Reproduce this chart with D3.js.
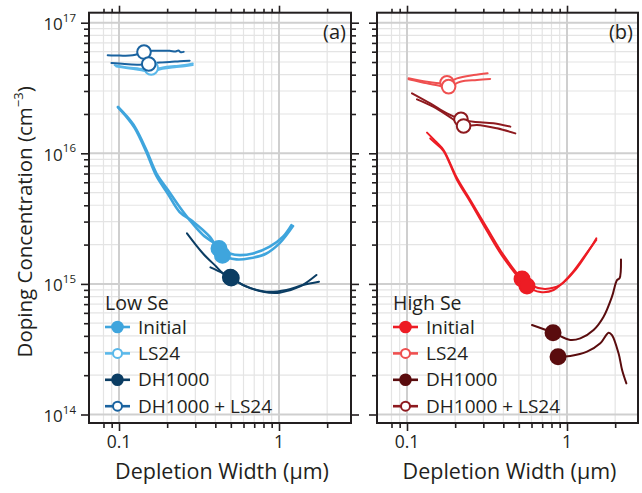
<!DOCTYPE html>
<html><head><meta charset="utf-8">
<script src="https://cdn.jsdelivr.net/npm/d3@7"></script>
<style>
body{margin:0;background:#fff}
svg{display:block}
text{font-family:"Open Sans",sans-serif;fill:#231f20}
</style>
</head><body>
<svg id="c" width="642" height="493"></svg>
<script>
// ---------- data ----------
const xMajorTicks = [0.1, 1];
const xMinorTicks = [0.08, 0.09, 0.2, 0.3, 0.4, 0.5, 0.6, 0.7, 0.8, 0.9, 2];
const xTickLabels = ["0.1", "1"];
const yDecades = [14, 15, 16, 17];
const yMinorMult = [2, 3, 4, 5, 6, 7, 8, 9];
const seriesNames = ["Initial", "LS24", "DH1000", "DH1000 + LS24"];
const seriesFilled = [true, false, true, false];
const lowColors = ["#3fa5dd", "#5ab8ea", "#0b3d63", "#1a63a0"];
const highColors = ["#ed1c24", "#ef5050", "#5a0c0e", "#8e1a1f"];
const panelTitles = ["Low Se", "High Se"];
const panelLetters = ["(a)", "(b)"];

// Low Se
const lowInitialA = [[0.0986,2.27e16],[0.1101,1.965e16],[0.1254,1.60e16],[0.1483,1.06e16],[0.1713,7.03e15],[0.2023,5.24e15],[0.2394,3.88e15],[0.2765,3.08e15],[0.3350,2.37e15],[0.4061,1.99e15],[0.4217,1.87e15],[0.4920,1.71e15],[0.5680,1.66e15],[0.6879,1.71e15],[0.8750,1.93e15],[1.0593,2.30e15],[1.1955,2.82e15]];
const lowInitialB = [[0.0986,2.25e16],[0.1101,1.93e16],[0.1254,1.56e16],[0.1483,1.02e16],[0.1713,6.70e15],[0.2023,4.88e15],[0.2394,3.55e15],[0.290,3.00e15],[0.369,2.30e15],[0.443,1.66e15],[0.542,1.54e15],[0.656,1.57e15],[0.834,1.71e15],[1.010,2.05e15],[1.223,2.77e15]];
const lowInitialMarks = [[0.4217,1.87e15],[0.443,1.66e15]];
const lowLS24A = [[0.0940,4.72e16],[0.1085,4.58e16],[0.1346,4.45e16],[0.1555,4.35e16],[0.1875,4.55e16],[0.2228,4.66e16],[0.2574,4.74e16],[0.289,4.87e16]];
const lowLS24B = [[0.0960,4.62e16],[0.1130,4.48e16],[0.1346,4.35e16],[0.1577,4.22e16],[0.1875,4.44e16],[0.2228,4.56e16],[0.2574,4.64e16],[0.289,4.74e16]];
const lowLS24Marks = [[0.1567,4.62e16],[0.1589,4.50e16]];
const lowDH1000A = [[0.266,2.44e15],[0.335,1.71e15],[0.406,1.355e15],[0.447,1.205e15],[0.497,1.124e15],[0.596,9.81e14],[0.794,8.71e14],[1.010,8.57e14],[1.346,9.52e14],[1.713,1.17e15]];
const lowDH1000B = [[0.373,1.34e15],[0.447,1.205e15],[0.529,1.07e15],[0.626,9.52e14],[0.834,8.71e14],[1.112,8.98e14],[1.413,9.81e14],[1.778,1.04e15]];
const lowDH1000Marks = [[0.497,1.124e15],[0.503,1.11e15]];
const lowDHLS24A = [[0.0850,5.63e16],[0.101,5.60e16],[0.1218,5.63e16],[0.1433,5.96e16],[0.1624,6.10e16],[0.1849,6.10e16],[0.2074,6.10e16],[0.226,6.02e16],[0.235,6.12e16],[0.244,5.94e16],[0.2537,5.98e16]];
const lowDHLS24B = [[0.0897,4.91e16],[0.1085,4.83e16],[0.1346,4.77e16],[0.1534,4.83e16],[0.1796,4.96e16],[0.2074,5.00e16],[0.2394,5.07e16],[0.2765,5.12e16]];
const lowDHLS24Marks = [[0.1433,5.96e16],[0.1534,4.83e16]];

// High Se
const highInitialA = [[0.1334,1.44e16],[0.1525,1.22e16],[0.1693,1.06e16],[0.2054,6.47e15],[0.2487,4.39e15],[0.3162,2.68e15],[0.4015,1.66e15],[0.5236,1.09e15],[0.607,9.64e14],[0.731,9.14e14],[0.908,9.81e14],[1.127,1.276e15],[1.40,1.88e15],[1.524,2.23e15]];
const highInitialB = [[0.1398,1.30e16],[0.1547,1.16e16],[0.1693,1.04e16],[0.2054,6.25e15],[0.2487,4.24e15],[0.3162,2.54e15],[0.4015,1.58e15],[0.5623,9.64e14],[0.681,8.67e14],[0.825,8.98e14],[1.048,1.17e15],[1.30,1.66e15],[1.524,2.17e15]];
const highInitialMarks = [[0.5236,1.09e15],[0.5623,9.64e14]];
const highLS24A = [[0.1023,3.75e16],[0.1334,3.53e16],[0.1655,3.43e16],[0.1778,3.47e16],[0.2054,3.75e16],[0.2606,3.97e16],[0.319,4.10e16]];
const highLS24B = [[0.1023,3.69e16],[0.1334,3.43e16],[0.1615,3.28e16],[0.182,3.24e16],[0.2154,3.53e16],[0.2738,3.64e16],[0.331,3.71e16]];
const highLS24Marks = [[0.1778,3.47e16],[0.182,3.24e16]];
const highDH1000A = [[0.604,4.84e14],[0.818,4.23e14],[1.048,3.72e14],[1.211,3.83e14],[1.466,4.44e14],[1.693,5.61e14],[1.91,7.98e14],[2.054,1.07e15],[2.13,1.104e15],[2.175,1.54e15]];
const highDH1000B = [[0.879,2.77e14],[1.048,2.81e14],[1.334,3.03e14],[1.615,3.51e14],[1.82,4.23e14],[1.91,4.06e14],[2.10,2.94e14],[2.21,2.19e14],[2.35,1.73e14]];
const highDH1000Marks = [[0.818,4.23e14],[0.879,2.77e14]];
const highDHLS24A = [[0.1075,2.88e16],[0.1398,2.41e16],[0.1778,2.02e16],[0.2175,1.82e16],[0.2606,1.746e16],[0.3475,1.70e16],[0.4422,1.60e16]];
const highDHLS24B = [[0.1155,2.59e16],[0.1466,2.27e16],[0.1865,1.887e16],[0.2258,1.62e16],[0.2738,1.65e16],[0.3652,1.553e16],[0.4752,1.42e16]];
const highDHLS24Marks = [[0.2175,1.82e16],[0.2258,1.62e16]];

const panelData = [
  [ {lines:[lowInitialA,lowInitialB], marks:lowInitialMarks},
    {lines:[lowLS24A,lowLS24B], marks:lowLS24Marks},
    {lines:[lowDH1000A,lowDH1000B], marks:lowDH1000Marks},
    {lines:[lowDHLS24A,lowDHLS24B], marks:lowDHLS24Marks} ],
  [ {lines:[highInitialA,highInitialB], marks:highInitialMarks},
    {lines:[highLS24A,highLS24B], marks:highLS24Marks},
    {lines:[highDH1000A,highDH1000B], marks:highDH1000Marks},
    {lines:[highDHLS24A,highDHLS24B], marks:highDHLS24Marks} ]
];
const panelColors = [lowColors, highColors];

// ---------- layout ----------
const svg = d3.select("#c");
const yTop = 12.7, yBot = 423;
const panelX = [[89, 351], [377, 638]];
const y = d3.scaleLog()
  .domain([Math.pow(10, 14 - 8.5/130.6), Math.pow(10, 17 + 10/130.6)])
  .range([yBot, yTop]);

const yMinorVals = [];
yDecades.forEach(d => { if (d < 17) yMinorMult.forEach(m => yMinorVals.push(m * Math.pow(10, d))); });
const yMajorVals = yDecades.map(d => Math.pow(10, d));

panelX.forEach(([x0, x1], pi) => {
  const x = d3.scaleLog()
    .domain([Math.pow(10, -1 - 30/160), Math.pow(10, -1 + (x1 - x0 - 30)/160)])
    .range([x0, x1]);
  const g = svg.append("g");
  const grid = g.append("g");
  xMinorTicks.forEach(v => grid.append("line").attr("x1", x(v)).attr("x2", x(v)).attr("y1", yTop).attr("y2", yBot)
    .attr("stroke", "#e4e4e4").attr("stroke-width", 1.2));
  yMinorVals.forEach(v => grid.append("line").attr("x1", x0).attr("x2", x1).attr("y1", y(v)).attr("y2", y(v))
    .attr("stroke", "#e4e4e4").attr("stroke-width", 1.2));
  xMajorTicks.forEach(v => grid.append("line").attr("x1", x(v)).attr("x2", x(v)).attr("y1", yTop).attr("y2", yBot)
    .attr("stroke", "#cfcfcf").attr("stroke-width", 2));
  yMajorVals.forEach(v => grid.append("line").attr("x1", x0).attr("x2", x1).attr("y1", y(v)).attr("y2", y(v))
    .attr("stroke", "#cfcfcf").attr("stroke-width", 2));

  const fmtNone = () => "";
  const addAxis = (axis, tr) => {
    const a = g.append("g").attr("transform", tr).call(axis);
    a.select(".domain").remove();
    a.selectAll("line").attr("stroke", "#231f20").attr("stroke-width", 1.6);
    return a;
  };
  addAxis(d3.axisBottom(x).tickValues(xMinorTicks).tickFormat(fmtNone).tickSize(5), `translate(0,${yBot})`);
  addAxis(d3.axisBottom(x).tickValues(xMajorTicks).tickFormat(fmtNone).tickSize(8), `translate(0,${yBot})`);
  addAxis(d3.axisTop(x).tickValues(xMinorTicks).tickFormat(fmtNone).tickSize(4), `translate(0,${yTop})`);
  addAxis(d3.axisTop(x).tickValues(xMajorTicks).tickFormat(fmtNone).tickSize(7), `translate(0,${yTop})`);
  addAxis(d3.axisLeft(y).tickValues(yMinorVals).tickFormat(fmtNone).tickSize(5), `translate(${x0},0)`);
  addAxis(d3.axisLeft(y).tickValues(yMajorVals).tickFormat(fmtNone).tickSize(8), `translate(${x0},0)`);
  if (pi === 0) {
    addAxis(d3.axisRight(y).tickValues(yMinorVals).tickFormat(fmtNone).tickSize(5), `translate(${x1},0)`);
    addAxis(d3.axisRight(y).tickValues(yMajorVals).tickFormat(fmtNone).tickSize(8), `translate(${x1},0)`);
  }

  xMajorTicks.forEach((v, i) => g.append("text").attr("x", x(v)).attr("y", 448)
    .attr("text-anchor", "middle").attr("font-size", 17.5).text(xTickLabels[i]));
  g.append("text").attr("x", (x0 + x1) / 2 + 2).attr("y", 479).attr("text-anchor", "middle")
    .attr("font-size", 21.5).text("Depletion Width (µm)");

  if (pi === 0) {
    yDecades.forEach(d => {
      const t = g.append("text").attr("x", 76).attr("y", y(Math.pow(10, d)) + 7.5).attr("text-anchor", "end").attr("font-size", 17);
      t.append("tspan").text("10");
      t.append("tspan").attr("font-size", 11.5).attr("dy", -8.5).text(d);
    });
    const yt = g.append("text").attr("transform", `translate(32,${(yTop + yBot) / 2 + 4}) rotate(-90)`)
      .attr("text-anchor", "middle").attr("font-size", 20.5);
    yt.append("tspan").text("Doping Concentration (cm");
    yt.append("tspan").attr("font-size", 13).attr("dy", -9).text("−3");
    yt.append("tspan").attr("dy", 9).text(")");
  }

  const line = d3.line().x(d => x(d[0])).y(d => y(d[1])).curve(d3.curveCatmullRom.alpha(0.5));
  const plot = g.append("g");
  panelData[pi].forEach((s, si) => {
    const col = panelColors[pi][si];
    const lw = (pi === 0 && si === 0) ? 2.6 : 2;
    s.lines.forEach(l => plot.append("path").attr("d", line(l)).attr("fill", "none")
      .attr("stroke", col).attr("stroke-width", lw).attr("stroke-linejoin", "round").attr("stroke-linecap", "round"));
  });
  panelData[pi].forEach((s, si) => {
    const col = panelColors[pi][si];
    s.marks.forEach(m => plot.append("circle").attr("cx", x(m[0])).attr("cy", y(m[1]))
      .attr("r", seriesFilled[si] ? 7.5 : 6.8)
      .attr("fill", seriesFilled[si] ? col : "#fff").attr("stroke", col).attr("stroke-width", 2));
  });

  g.append("rect").attr("x", x0).attr("y", yTop).attr("width", x1 - x0).attr("height", yBot - yTop)
    .attr("fill", "none").attr("stroke", "#231f20").attr("stroke-width", 2);

  g.append("text").attr("x", x1 - 5).attr("y", 39).attr("text-anchor", "end").attr("font-size", 20).text(panelLetters[pi]);

  const lx = x0 + 16;
  g.append("text").attr("x", lx).attr("y", 310).attr("font-size", 19.5).text(panelTitles[pi]);
  seriesNames.forEach((nm, si) => {
    const col = panelColors[pi][si];
    const ly = 327 + si * 26.4;
    g.append("line").attr("x1", lx).attr("x2", lx + 25).attr("y1", ly).attr("y2", ly).attr("stroke", col).attr("stroke-width", 2.6);
    g.append("circle").attr("cx", lx + 12.5).attr("cy", ly).attr("r", seriesFilled[si] ? 5.3 : 4.5)
      .attr("fill", seriesFilled[si] ? col : "#fff").attr("stroke", col).attr("stroke-width", 2);
    g.append("text").attr("x", lx + 33).attr("y", ly + 6.5).attr("font-size", 19).text(nm);
  });
});
</script>
</body></html>
